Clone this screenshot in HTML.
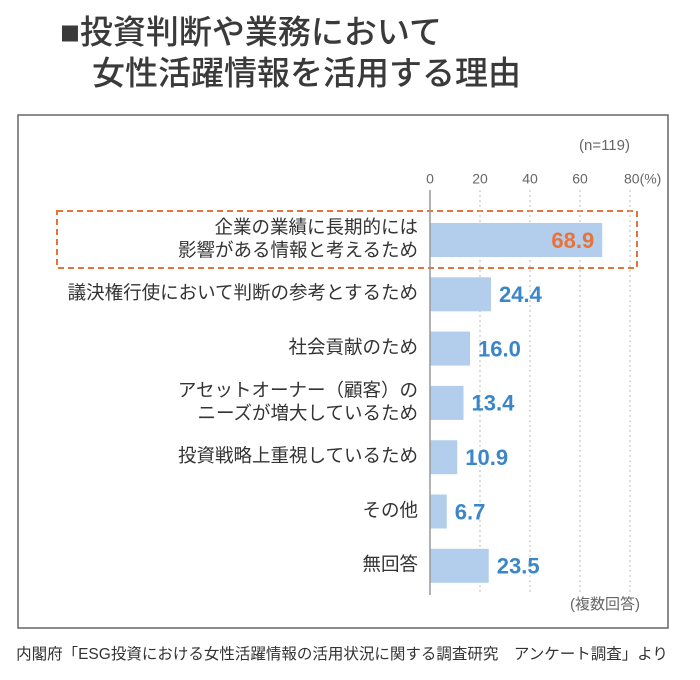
<!DOCTYPE html>
<html><head><meta charset="utf-8"><style>
body{margin:0;background:#fff;width:700px;height:675px;overflow:hidden;font-family:"Liberation Sans","Noto Sans CJK JP",sans-serif;}
</style></head><body>
<svg width="700" height="675" xmlns="http://www.w3.org/2000/svg" font-family="'Liberation Sans','Noto Sans CJK JP',sans-serif">
<text x="60" y="35" font-size="33" font-weight="500" fill="#3a3a3a" dominant-baseline="middle">■投資判断や業務において</text>
<text x="92" y="76" font-size="33" font-weight="500" fill="#3a3a3a" dominant-baseline="middle">女性活躍情報を活用する理由</text>
<rect x="18" y="115" width="650" height="513" fill="#fff" stroke="#666" stroke-width="1.5"/>
<text x="630" y="146" font-size="15" fill="#666" text-anchor="end" dominant-baseline="middle">(n=119)</text>
<text x="640" y="605" font-size="15" fill="#666" text-anchor="end" dominant-baseline="middle">(複数回答)</text>
<text x="342" y="655" font-size="15.5" fill="#333" text-anchor="middle" dominant-baseline="middle">内閣府「ESG投資における女性活躍情報の活用状況に関する調査研究　アンケート調査」より</text>
<rect x="57" y="211" width="580" height="57" fill="none" stroke="#e8733a" stroke-width="2" stroke-dasharray="6,4"/>
<g id="g"></g>
</svg>
<script>
const categories=[["企業の業績に長期的には","影響がある情報と考えるため"],["議決権行使において判断の参考とするため"],["社会貢献のため"],["アセットオーナー（顧客）の","ニーズが増大しているため"],["投資戦略上重視しているため"],["その他"],["無回答"]];
const values=[68.9,24.4,16.0,13.4,10.9,6.7,23.5];
const ticks=[0,20,40,60,80];
const tickLabels=["0","20","40","60","80(%)"];
const NS="http://www.w3.org/2000/svg";
const g=document.getElementById('g');
const x=v=>430+v*2.5;
const y=i=>240+i*54.3;
function mk(t,a){const e=document.createElementNS(NS,t);for(const k in a)e.setAttribute(k,a[k]);g.appendChild(e);return e;}
ticks.forEach((t,i)=>{
 if(i>0){const l=mk('line',{x1:x(t),x2:x(t),y1:190,y2:595,stroke:'#bbb','stroke-dasharray':'2,3'});
 
 }
 const tx=mk('text',{x:i==4?x(t)-6:x(t),y:180,'font-size':14,fill:'#666','text-anchor':i==4?'start':'middle','dominant-baseline':'middle'});
 tx.textContent=tickLabels[i];
 
 
});
values.forEach((v,i)=>{
 const r=mk('rect',{x:x(0),y:y(i)-17,width:x(v)-x(0),height:34,fill:'#b3cdec'});
 
 
 const first=i===0;
 const vt=mk('text',{x:first?x(v)-8:x(v)+8,y:y(i)+2,'font-size':22,'font-weight':'600',fill:first?'#e8733a':'#3a86c8','text-anchor':first?'end':'start','dominant-baseline':'middle'});
 vt.textContent=v.toFixed(1);
 
 
 const lines=categories[i];
 lines.forEach((s,j)=>{
  const ct=mk('text',{x:418,y:y(i)+(j-(lines.length-1)/2)*23,'font-size':18.5,fill:'#333','text-anchor':'end','dominant-baseline':'middle'});
  ct.textContent=s;
  
  
 });
});
const ax=mk('line',{x1:x(0),x2:x(0),y1:190,y2:595,stroke:'#999','stroke-width':1.5});


</script>
</body></html>
